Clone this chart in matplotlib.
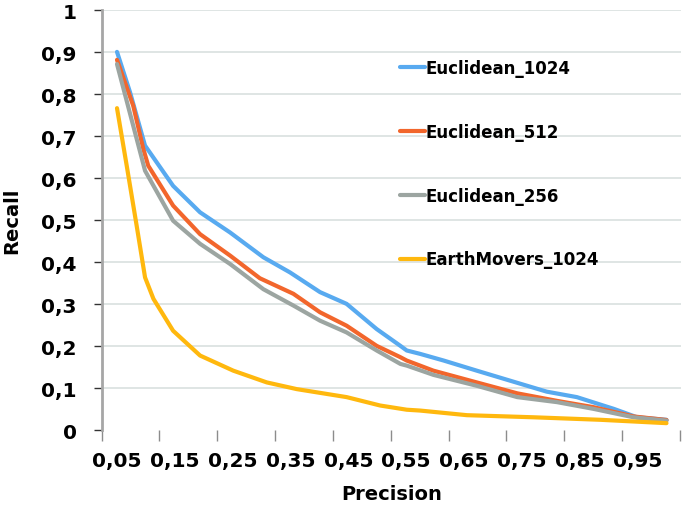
import matplotlib
matplotlib.use("Agg")
import matplotlib.pyplot as plt
from matplotlib.ticker import FixedLocator, FuncFormatter

# ---- data ----
labels = ["Euclidean_1024", "Euclidean_512", "Euclidean_256", "EarthMovers_1024"]
colors = ["#58aaf0", "#f2662c", "#9ca5a1", "#ffb80e"]

eu1024_x = [0.05, 0.0725, 0.0984, 0.147, 0.1936, 0.2455, 0.303, 0.349, 0.401, 0.447, 0.499,
            0.540, 0.551, 0.574, 0.615, 0.672, 0.730, 0.793, 0.845, 0.909, 0.949, 1.0]
eu1024_y = [0.901, 0.805, 0.678, 0.582, 0.519, 0.471, 0.412, 0.376, 0.329, 0.301, 0.241,
            0.201, 0.190, 0.182, 0.166, 0.142, 0.118, 0.092, 0.079, 0.051, 0.031, 0.025]

eu512_x = [0.05, 0.078, 0.0955, 0.104, 0.147, 0.1936, 0.2455, 0.297, 0.355, 0.401, 0.447,
           0.499, 0.540, 0.551, 0.574, 0.597, 0.672, 0.742, 0.811, 0.874, 0.943, 1.0]
eu512_y = [0.882, 0.773, 0.670, 0.630, 0.535, 0.467, 0.416, 0.362, 0.325, 0.281, 0.249,
           0.201, 0.174, 0.166, 0.154, 0.142, 0.114, 0.088, 0.070, 0.055, 0.033, 0.0245]

eu256_x = [0.05, 0.0985, 0.147, 0.1936, 0.2455, 0.303, 0.355, 0.401, 0.447, 0.499,
           0.540, 0.551, 0.574, 0.597, 0.672, 0.742, 0.811, 0.874, 0.943, 1.0]
eu256_y = [0.872, 0.618, 0.499, 0.444, 0.396, 0.336, 0.297, 0.261, 0.233, 0.190,
           0.158, 0.154, 0.143, 0.132, 0.106, 0.079, 0.067, 0.051, 0.031, 0.023]

em1024_x = [0.05, 0.0668, 0.084, 0.0985, 0.113, 0.147, 0.1936, 0.251, 0.309, 0.361, 0.447,
            0.505, 0.551, 0.574, 0.655, 0.770, 0.886, 1.0]
em1024_y = [0.767, 0.630, 0.487, 0.364, 0.313, 0.237, 0.178, 0.142, 0.114, 0.098, 0.079,
            0.059, 0.049, 0.047, 0.036, 0.031, 0.025, 0.017]

series_x = [eu1024_x, eu512_x, eu256_x, em1024_x]
series_y = [eu1024_y, eu512_y, eu256_y, em1024_y]

x_tick_values = [0.05, 0.15, 0.25, 0.35, 0.45, 0.55, 0.65, 0.75, 0.85, 0.95]
y_tick_values = [0, 0.1, 0.2, 0.3, 0.4, 0.5, 0.6, 0.7, 0.8, 0.9, 1.0]

# ---- figure ----
plt.rcParams['font.family'] = ['DejaVu Sans']
fig = plt.figure(figsize=(6.85, 5.06), dpi=100)
ax = fig.add_axes([101.5 / 685, 1 - 431.3 / 506, (681 - 101.5) / 685, (431.3 - 11.3) / 506])

for xs, ys, c, lab in zip(series_x, series_y, colors, labels):
    ax.plot(xs, ys, color=c, lw=3.0, label=lab, solid_capstyle='round', solid_joinstyle='round')

ax.set_xlim(0.0232, 1.0251)
ax.set_ylim(0, 1)

# y axis
ax.yaxis.set_major_locator(FixedLocator(y_tick_values))
ax.yaxis.set_major_formatter(FuncFormatter(lambda v, p: ("%g" % round(v, 2)).replace(".", ",")))
ax.tick_params(axis='y', which='major', direction='out', length=6, width=1.0, color='#333333',
               pad=12, labelsize=14.5)
for t in ax.get_yticklabels():
    t.set_fontweight('bold')

# x axis: labels at category centres, tick marks between
ax.xaxis.set_major_locator(FixedLocator(x_tick_values))
ax.xaxis.set_major_formatter(FuncFormatter(lambda v, p: ("%.2f" % v).replace(".", ",")))
ax.xaxis.set_minor_locator(FixedLocator([0.0232 + 0.1 * k for k in range(11)]))
ax.tick_params(axis='x', which='major', length=0, pad=15, labelsize=14.5)
ax.tick_params(axis='x', which='minor', direction='out', length=8, width=1.0, color='#8c8c8c')
for t in ax.get_xticklabels():
    t.set_fontweight('bold')

ax.grid(axis='y', color='#d9e0df', lw=1.2)
ax.set_axisbelow(True)
ax.get_ygridlines()[0].set_visible(False)

for s in ['top', 'right', 'bottom']:
    ax.spines[s].set_visible(False)
ax.spines['left'].set_color('#a6a6a6')
ax.spines['left'].set_linewidth(2.0)

ax.set_xlabel("Precision", fontsize=14, fontweight='bold', labelpad=10)
ax.set_ylabel("Recall", fontsize=14, fontweight='bold', labelpad=14)

leg = ax.legend(loc='center left', bbox_to_anchor=((400 - 101.5) / 579.5, 0.635),
                frameon=False, fontsize=12, labelspacing=2.75, handlelength=1.5,
                handletextpad=0.05, borderpad=0, borderaxespad=0)
for t in leg.get_texts():
    t.set_fontweight('bold')
for h in leg.get_lines():
    h.set_linewidth(3.0)

fig.savefig("out.png", dpi=100)
